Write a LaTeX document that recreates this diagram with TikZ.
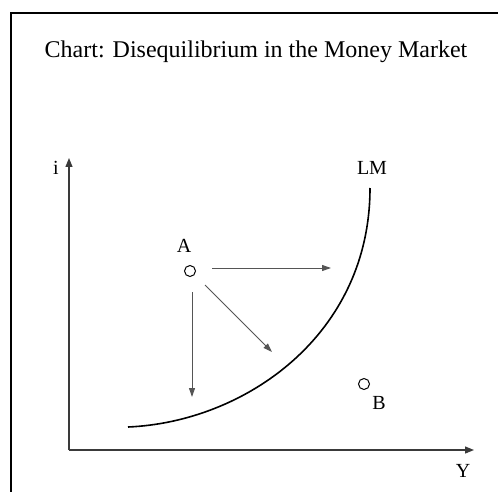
\documentclass[tikz,border=0pt]{standalone}
\usepackage{fontspec}
\setmainfont{Liberation Serif}
\usetikzlibrary{arrows.meta}
\definecolor{axisgray}{HTML}{3A3A3A}
\definecolor{arrgray}{HTML}{555555}
\tikzset{
  lbl/.style={inner sep=0pt, font=\fontsize{20}{22}\selectfont},
  pt/.style={circle, draw=black, line width=1pt, minimum size=11pt, inner sep=0pt},
  axis/.style={draw=axisgray, line width=1.2pt, -{Triangle[length=9pt,width=7pt]}},
  move/.style={draw=arrgray, line width=1pt, -{Triangle[length=9pt,width=6pt]}, fill=arrgray}
}
\begin{document}
\begin{tikzpicture}[x=1pt,y=-1pt]
\useasboundingbox (0,0) rectangle (498,492);
\fill[white] (0,0) rectangle (498,492);
% frame
\draw[line width=2pt] (10.5,492) -- (10.5,13.5) -- (498,13.5);
% title
\node[inner sep=0pt, font=\fontsize{24}{28}\selectfont] (title) at (256,52) {Chart: Disequilibrium in the Money Market};
% axes
\coordinate (O) at (69,450);
\coordinate (ytop) at (69,158);
\coordinate (xend) at (474,450);
\draw[axis] (O) -- (ytop);
\draw[axis] (O) -- (xend);
\node[lbl] (ilab) at (56,168) {i};
\node[lbl] (ylab) at (463,471) {Y};
% LM curve
\coordinate (lms) at (128,427);
\coordinate (lme) at (370,188);
\draw[line width=1.6pt] (lms) .. controls (245,422) and (370,335) .. (lme);
\node[lbl] (lmlab) at (372,168) {LM};
% point A
\node[pt] (A) at (190,271) {};
\node[lbl] (alab) at (184,246) {A};
\coordinate (aright) at (331,268);
\coordinate (adown) at (192,397);
\coordinate (adiag) at (272,352);
\draw[move] (212,268) -- (aright);
\draw[move] (192,292) -- (adown);
\draw[move] (205,285) -- (adiag);
% point B
\node[pt] (B) at (364,384) {};
\node[lbl] (blab) at (379,403) {B};
\end{tikzpicture}
\end{document}
